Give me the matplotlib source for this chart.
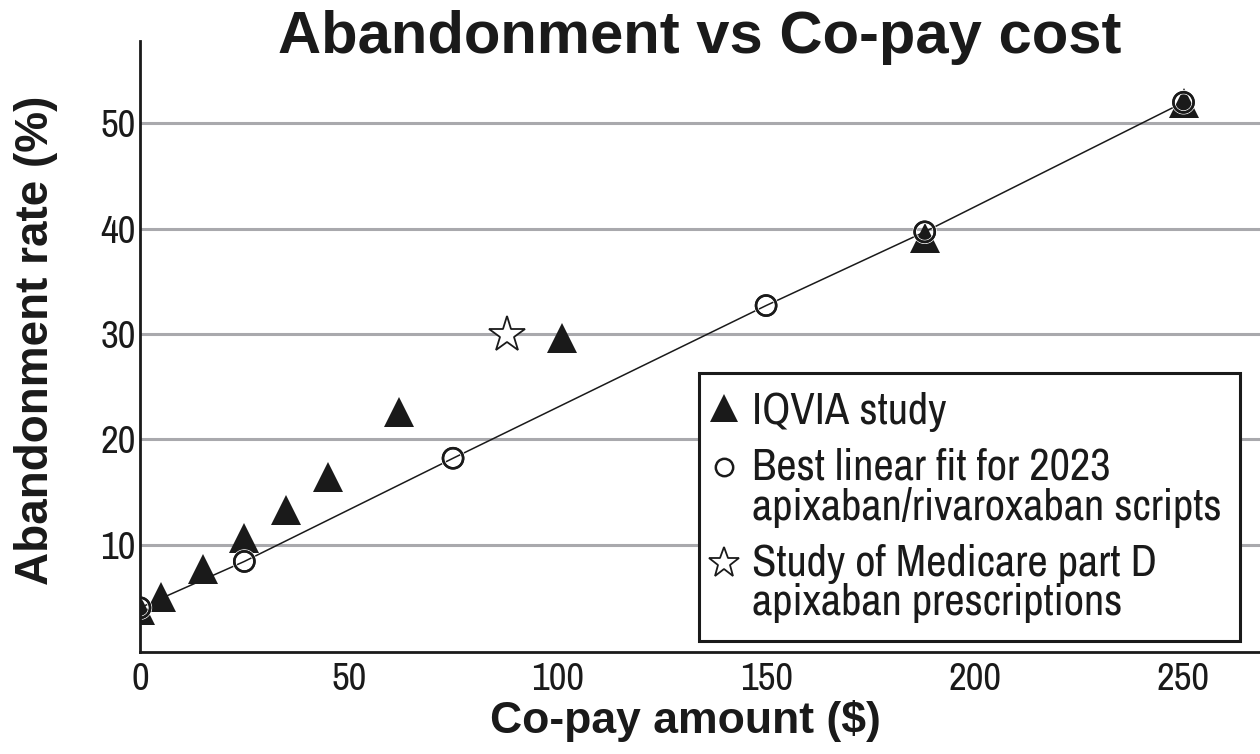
import matplotlib
matplotlib.use("Agg")
import matplotlib.pyplot as plt
import matplotlib.patheffects as pe

# ---- data ----
iqvia_copay = [0, 5, 15, 25, 35, 45, 62, 101, 188, 250]
iqvia_rate = [3.8, 5.0, 7.7, 10.6, 13.3, 16.4, 22.6, 29.6, 39.1, 51.9]

fit_copay = [0, 25, 75, 150, 188, 250]
fit_rate = [4.0, 8.4, 18.2, 32.7, 39.7, 52.0]

medicare_copay = [88]
medicare_rate = [29.9]

xticks = [0, 50, 100, 150, 200, 250]
yticks = [10, 20, 30, 40, 50]

title = "Abandonment vs Co-pay cost"
xlabel = "Co-pay amount ($)"
ylabel = "Abandonment rate (%)"
labels = ["IQVIA study",
          "Best linear fit for 2023\napixaban/rivaroxaban scripts",
          "Study of Medicare part D\napixaban prescriptions"]

NARROW = ["Archivo Narrow", "Roboto Condensed", "PT Sans Narrow", "Pragati Narrow",
          "IBM Plex Sans Condensed", "DejaVu Sans"]
BOLD = ["Liberation Sans", "Arimo", "DejaVu Sans"]

W, H = 1260, 754
fig = plt.figure(figsize=(W / 100, H / 100), dpi=100)
ax_l, ax_r, ax_b, ax_t = 140, 1260, 652, 41
ax = fig.add_axes([ax_l / W, 1 - ax_b / H, (ax_r - ax_l) / W, (ax_b - ax_t) / H])

ax.set_xlim(0, (ax_r - ax_l) / 4.174)
ax.set_ylim(-0.2, -0.2 + (ax_b - ax_t) / 10.53)

for s in ["top", "right"]:
    ax.spines[s].set_visible(False)
for s in ["left", "bottom"]:
    ax.spines[s].set_linewidth(2.0)
    ax.spines[s].set_color("#1a1a1a")
    ax.spines[s].set_zorder(6)

ax.set_yticks(yticks)
ax.set_xticks(xticks)
ax.yaxis.grid(True, color="#a9a9ad", linewidth=2.2)
ax.set_axisbelow(True)
ax.tick_params(axis="both", length=0, labelsize=28, colors="#1a1a1a")
ax.tick_params(axis="y", pad=3)
ax.tick_params(axis="x", pad=7)
for t in ax.get_xticklabels() + ax.get_yticklabels():
    t.set_family(NARROW)

# fit line
ax.plot(fit_copay, fit_rate, color="#1a1a1a", linewidth=1.1, zorder=3)

tri, = ax.plot(iqvia_copay, iqvia_rate, linestyle="none", marker="^",
               markersize=21, color="#1a1a1a", markeredgewidth=0, zorder=4)
circ, = ax.plot(fit_copay, fit_rate, linestyle="none", marker="o",
                markersize=14.5, markerfacecolor="none", markeredgecolor="#1a1a1a",
                markeredgewidth=1.8, zorder=5,
                path_effects=[pe.withStroke(linewidth=3.0, foreground="white"), pe.Normal()])
star, = ax.plot(medicare_copay, medicare_rate, linestyle="none", marker="*",
                markersize=27, markerfacecolor="white", markeredgecolor="#1a1a1a",
                markeredgewidth=1.3, zorder=5)

leg = ax.legend([tri, circ, star], labels, loc="upper right",
                bbox_to_anchor=((1240 - ax_l) / (ax_r - ax_l), (ax_b - 373) / (ax_b - ax_t)),
                borderaxespad=0, frameon=True, fancybox=False, framealpha=1,
                edgecolor="#1a1a1a", prop={"family": NARROW, "size": 32},
                handlelength=0.3, handletextpad=0.47, borderpad=0.42,
                labelspacing=0.36, numpoints=1)
leg.get_frame().set_linewidth(2.2)
for t in leg.get_texts():
    t.set_linespacing(0.97)
    t.set_color("#1a1a1a")
hs = leg.legend_handles
hs[0].set_markersize(20)
hs[1].set_markersize(12.5)
hs[1].set_path_effects([])
hs[2].set_markersize(23)
# align the markers of two-line entries with their first line
for h in hs[1:]:
    yd = h.get_ydata()
    h.set_ydata([v + 15.0 for v in yd])

ax.set_xlabel(xlabel, fontsize=32, fontweight="bold", family=BOLD, color="#1a1a1a")
ax.xaxis.set_label_coords((685 - ax_l) / (ax_r - ax_l), -(700 - ax_b) / (ax_b - ax_t))
ax.set_ylabel(ylabel, fontsize=33, fontweight="bold", family=BOLD, color="#1a1a1a")
ax.yaxis.set_label_coords(-(ax_l - 58) / (ax_r - ax_l), 0.5 + (346 - 340) / (ax_b - ax_t))

fig.text(700 / W, 1 - 53 / H, title, ha="center", va="baseline",
         fontsize=43, fontweight="bold", family=BOLD, color="#1a1a1a")

fig.savefig("out.png", dpi=100)
